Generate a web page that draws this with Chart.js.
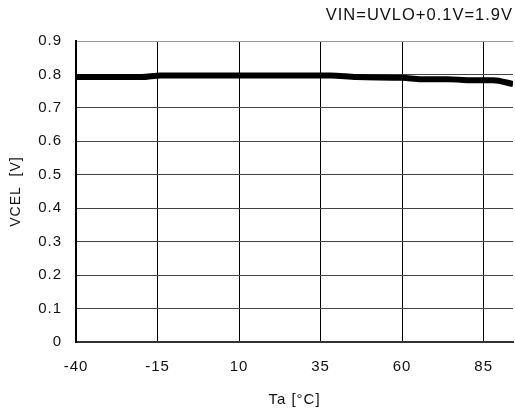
<!DOCTYPE html>
<html>
<head>
    <title>VCEL vs Ta</title>
    <script src="https://cdn.jsdelivr.net/npm/chart.js"></script>
    <style>
        html, body { margin: 0; padding: 0; background: #ffffff; }
        #wrap { width: 515px; height: 416px; }
    </style>
</head>
<body>
    <div id="wrap"><canvas id="vcelChart"></canvas></div>
    <script>
        // values
        var tempC = [-40, -20, -14, 0, 20, 38, 46, 60, 66, 74, 80, 88, 94];
        var vcel = [0.792, 0.792, 0.797, 0.797, 0.797, 0.797, 0.792, 0.790, 0.786, 0.786, 0.783, 0.783, 0.771];
        var xTicks = [-40, -15, 10, 35, 60, 85];
        var yTicks = [0, 0.1, 0.2, 0.3, 0.4, 0.5, 0.6, 0.7, 0.8, 0.9];

        var fontFamily = "'Liberation Sans', Arial, sans-serif";
        var points = tempC.map(function (t, i) { return { x: t, y: vcel[i] }; });

        // the original text is a little spaced out
        var spacing = {
            id: 'spacing',
            beforeUpdate: function (chart) { chart.ctx.letterSpacing = '1px'; },
            beforeDraw: function (chart) { chart.ctx.letterSpacing = '1px'; }
        };

        var ctx = document.getElementById('vcelChart').getContext('2d');
        var chart = new Chart(ctx, {
            type: 'line',
            data: {
                datasets: [{
                    data: points,
                    borderColor: '#000000',
                    borderWidth: 6,
                    pointRadius: 0,
                    cubicInterpolationMode: 'monotone',
                    fill: false
                }]
            },
            plugins: [spacing],
            options: {
                responsive: true,
                maintainAspectRatio: false,
                animation: false,
                layout: { padding: { left: 0, right: 2, top: 0, bottom: 0 } },
                plugins: {
                    legend: { display: false },
                    tooltip: { enabled: false },
                    title: {
                        display: true,
                        text: 'VIN=UVLO+0.1V=1.9V',
                        align: 'end',
                        color: '#111111',
                        font: { family: fontFamily, size: 16.5, weight: 'normal' },
                        padding: { top: 5.1, bottom: 16.1 }
                    }
                },
                scales: {
                    x: {
                        type: 'linear',
                        min: -40,
                        max: 94,
                        afterFit: function (scale) { scale.height = 74; },
                        afterBuildTicks: function (scale) {
                            scale.ticks = xTicks.map(function (v) { return { value: v }; });
                        },
                        ticks: {
                            color: '#111111',
                            padding: 16,
                            maxRotation: 0,
                            font: { family: fontFamily, size: 15 }
                        },
                        grid: { color: '#000000', lineWidth: 1, drawTicks: false },
                        border: { color: '#333333', width: 2 },
                        title: {
                            display: true,
                            text: 'Ta [°C]',
                            color: '#111111',
                            font: { family: fontFamily, size: 15 },
                            padding: { top: 0, bottom: 7 }
                        }
                    },
                    y: {
                        min: 0,
                        max: 0.9,
                        afterFit: function (scale) { scale.width = 76; },
                        afterBuildTicks: function (scale) {
                            scale.ticks = yTicks.map(function (v) { return { value: v }; });
                        },
                        ticks: {
                            color: '#111111',
                            padding: 14,
                            font: { family: fontFamily, size: 15 },
                            callback: function (v) { return String(Math.round(v * 10) / 10); }
                        },
                        grid: {
                            color: function (c) { return c.tick && c.tick.value === 0.9 ? '#999999' : '#444444'; },
                            lineWidth: 1,
                            drawTicks: false
                        },
                        border: { color: '#000000', width: 2 },
                        title: {
                            display: true,
                            text: 'VCEL  [V]',
                            color: '#111111',
                            font: { family: fontFamily, size: 14 },
                            padding: { top: 7.6, bottom: 0 }
                        }
                    }
                }
            }
        });
    </script>
</body>
</html>
